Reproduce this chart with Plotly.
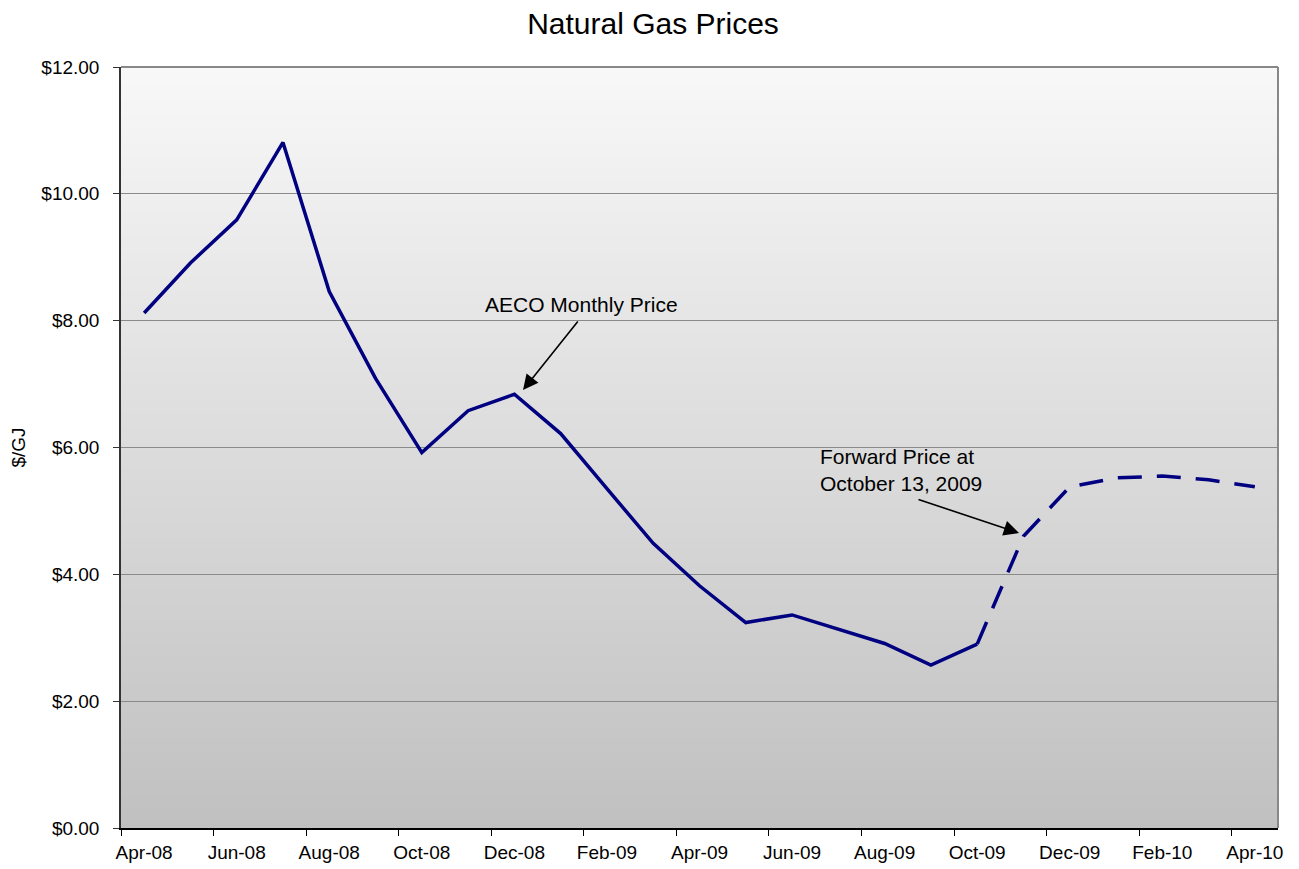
import plotly.graph_objects as go

# ---- data ----
months = ["Apr-08", "May-08", "Jun-08", "Jul-08", "Aug-08", "Sep-08", "Oct-08",
          "Nov-08", "Dec-08", "Jan-09", "Feb-09", "Mar-09", "Apr-09", "May-09",
          "Jun-09", "Jul-09", "Aug-09", "Sep-09", "Oct-09", "Nov-09", "Dec-09",
          "Jan-10", "Feb-10", "Mar-10", "Apr-10"]
aeco_months = months[:19]
aeco_price = [8.12, 8.91, 9.59, 10.81, 8.46, 7.09, 5.92, 6.58, 6.84, 6.22,
              5.35, 4.49, 3.82, 3.24, 3.36, 3.13, 2.91, 2.57, 2.90]
forward_months = months[18:]
forward_price = [2.90, 4.60, 5.38, 5.52, 5.55, 5.49, 5.38]

title_text = "Natural Gas Prices"
y_title = "$/GJ"
aeco_label = "AECO Monthly Price"
forward_label = "Forward Price at<br>October 13, 2009"

# ---- layout geometry (page has an 8px body margin) ----
OFF = 8
W, H = 1299 - OFF, 869 - OFF
ML, MR, MT, MB = 121 - OFF, 21, 67 - OFF, 41
PW, PH = W - ML - MR, H - MT - MB
FONT = "Arial, Liberation Sans, sans-serif"
NAVY = "#000080"


def px(xp):
    return (xp - OFF - ML) / PW


def py(yp):
    return (H - MB - (yp - OFF)) / PH


fig = go.Figure()
fig.add_trace(go.Scatter(x=aeco_months, y=aeco_price, mode="lines",
                         line=dict(color=NAVY, width=3.5), showlegend=False,
                         hoverinfo="x+y"))
fig.add_trace(go.Scatter(x=forward_months, y=forward_price, mode="lines",
                         line=dict(color=NAVY, width=3.5, dash="24px,15px"),
                         showlegend=False, hoverinfo="x+y"))

# gradient background
shapes = []
N = 160
top, bot = 248, 192
for i in range(N):
    t = (i + 0.5) / N
    c = round(bot + (top - bot) * t)
    shapes.append(dict(type="rect", xref="paper", yref="paper", x0=0, x1=1,
                       y0=i / N, y1=min(1.0, (i + 1.8) / N),
                       fillcolor=f"rgb({c},{c},{c})",
                       line=dict(width=0), layer="below"))
# top & right border
shapes.append(dict(type="line", xref="paper", yref="paper", x0=0, x1=1, y0=1, y1=1,
                   line=dict(color="#888888", width=2), layer="above"))
shapes.append(dict(type="line", xref="paper", yref="paper", x0=1, x1=1, y0=0, y1=1,
                   line=dict(color="#888888", width=2), layer="above"))

annotations = [
    dict(text=aeco_label, xref="paper", yref="paper", x=px(581), y=py(304),
         xanchor="center", yanchor="middle", showarrow=False,
         font=dict(family=FONT, size=21, color="black")),
    dict(text=forward_label, xref="paper", yref="paper", x=px(818), y=py(470),
         xanchor="left", yanchor="middle", align="left", showarrow=False,
         font=dict(family=FONT, size=21, color="black")),
    dict(text="", xref="paper", yref="paper", x=px(523), y=py(390),
         ax=579 - 523, ay=320 - 390, axref="pixel", ayref="pixel",
         showarrow=True, arrowhead=2, arrowsize=1.9, arrowwidth=1.6,
         arrowcolor="black", standoff=0),
    dict(text="", xref="paper", yref="paper", x=px(1019), y=py(533),
         ax=917 - 1019, ay=499 - 533, axref="pixel", ayref="pixel",
         showarrow=True, arrowhead=2, arrowsize=1.9, arrowwidth=1.6,
         arrowcolor="black", standoff=0),
]

fig.update_layout(
    width=W, height=H,
    margin=dict(l=ML, r=MR, t=MT, b=MB, autoexpand=False),
    paper_bgcolor="white", plot_bgcolor="rgba(0,0,0,0)",
    font=dict(family=FONT, size=19, color="black"),
    title=dict(text=title_text, x=(653 - OFF) / W, xref="container", xanchor="center",
               y=1 - (23 - OFF) / H, yref="container", yanchor="middle",
               font=dict(family=FONT, size=30, color="black")),
    shapes=shapes,
    annotations=annotations,
    xaxis=dict(type="category", categoryorder="array", categoryarray=months,
               range=[-0.5, len(months) - 0.5], tickmode="linear", tick0=0, dtick=2,
               tickson="boundaries", ticks="outside", ticklen=6, tickcolor="black",
               tickangle=0, automargin=False, ticklabelstandoff=6,
               showgrid=False, showline=True, linecolor="black", linewidth=1.5,
               zeroline=False, tickfont=dict(family=FONT, size=19, color="black")),
    yaxis=dict(range=[0, 12], tickmode="linear", tick0=0, dtick=2,
               tickprefix="$", tickformat=".2f", ticks="outside", ticklen=6,
               tickcolor="#333333", showgrid=True, gridcolor="#8a8a8a", gridwidth=1,
               showline=True, linecolor="#333333", linewidth=1.5, zeroline=False,
               ticklabelstandoff=10, automargin=False,
               title=dict(text=y_title, standoff=12,
                          font=dict(family=FONT, size=19, color="black")),
               tickfont=dict(family=FONT, size=19, color="black")),
)

fig.write_html("out.html")
